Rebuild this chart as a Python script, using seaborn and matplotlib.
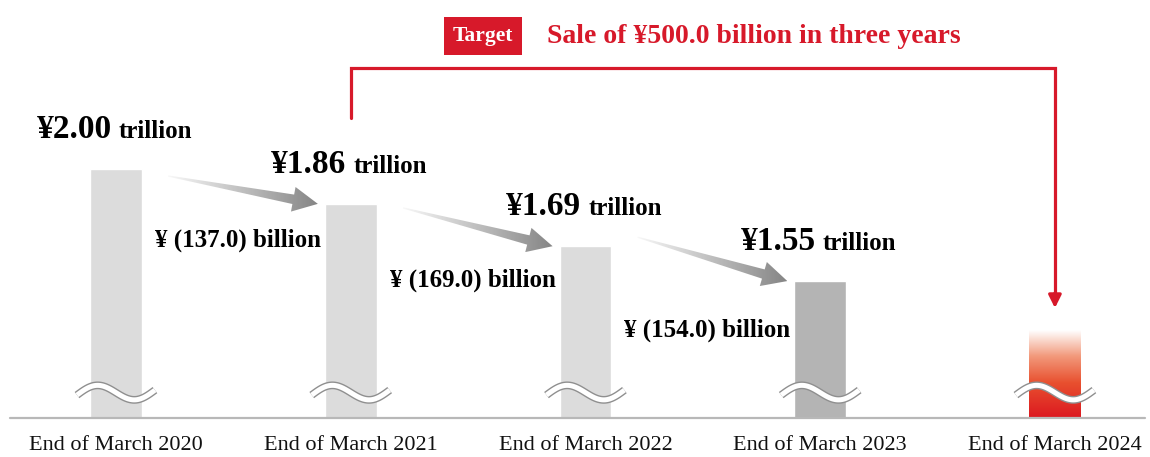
import numpy as np
import pandas as pd
import matplotlib.pyplot as plt
import seaborn as sns
from matplotlib.colors import LinearSegmentedColormap
from matplotlib.patches import Polygon
from matplotlib.transforms import IdentityTransform

# ---- data ----
categories = ["End of March 2020", "End of March 2021", "End of March 2022",
              "End of March 2023", "End of March 2024"]
balance = [2.00, 1.86, 1.69, 1.55, 1.35]          # trillion yen (2024 = target bar, faded)
balance_labels = ["¥2.00", "¥1.86", "¥1.69", "¥1.55"]
reductions = ["¥ (137.0) billion", "¥ (169.0) billion", "¥ (154.0) billion"]
target_text = "Sale of ¥500.0 billion in three years"

bar_colors = ["#dcdcdc", "#dcdcdc", "#dcdcdc", "#b4b4b4", (1, 1, 1, 0)]
red = "#d7192a"

# ---- layout ----
W, H = 1150, 457
BASE_PX = 418          # baseline row in the image
PX_PER_UNIT = 249      # pixels per trillion above the break
Y0 = 1.0
YTOP = Y0 + BASE_PX / PX_PER_UNIT
diff_label_y = [1.715, 1.554, 1.353]
arrow_start_dy = [-7, -4, 9]      # px, relative to bar top

sns.set_style("white")
plt.rcParams["font.family"] = ["Liberation Serif", "DejaVu Serif"]
plt.rcParams["text.color"] = "black"

fig = plt.figure(figsize=(W / 100, H / 100), dpi=100)
ax = fig.add_axes([0, (H - BASE_PX) / H, 1, BASE_PX / H])

df = pd.DataFrame({"period": categories, "value": balance})
sns.barplot(data=df, x="period", y="value", hue="period", palette=bar_colors,
            width=0.22, legend=False, ax=ax, saturation=1)

ax.set_xlim(-0.494, 4.405)
ax.set_ylim(Y0, YTOP)
sns.despine(ax=ax, left=True, bottom=True)
ax.set_yticks([])
ax.set_xlabel("")
ax.set_ylabel("")
ax.tick_params(axis="x", length=0, pad=13, labelsize=16, labelcolor="#111111")
ax.axhline(Y0, xmin=0.009, xmax=0.996, color="#b8b8b8", lw=1.6, clip_on=False, zorder=3)

# faded red target bar
bar = ax.patches[4]
grad = np.linspace(0, 1, 256).reshape(-1, 1)
red_cmap = LinearSegmentedColormap.from_list(
    "redfade", [(0.0, "#dc1820"), (0.4, "#e8502f"), (0.7, "#f2987a"), (1.0, "#ffffff")])
ax.imshow(grad, cmap=red_cmap, origin="lower", aspect="auto", zorder=2,
          extent=(bar.get_x(), bar.get_x() + bar.get_width(), Y0, bar.get_height()))
ax.set_xlim(-0.494, 4.405)
ax.set_ylim(Y0, YTOP)

# break marks
t = np.linspace(0, 1, 120)
for i in range(len(categories)):
    xs = i - 0.166 + 0.332 * t
    ys = 1.102 + 0.034 * np.sin(2 * np.pi * t) + 0.02 * (t - 0.5)
    ax.plot(xs, ys, color="#8f8f8f", lw=5.6, solid_capstyle="butt", zorder=4)
    ax.plot(xs, ys, color="white", lw=3.6, solid_capstyle="butt", zorder=5)

# value labels above bars
for i, lab in enumerate(balance_labels):
    ax.annotate(lab, xy=(i, balance[i]), xytext=(-3, 22.3), textcoords="offset points",
                ha="right", va="baseline", fontsize=24, fontweight="bold")
    ax.annotate("trillion", xy=(i, balance[i]), xytext=(2, 22.3), textcoords="offset points",
                ha="left", va="baseline", fontsize=18, fontweight="bold")

# reduction labels
for i, lab in enumerate(reductions):
    ax.text(i + 1 - 0.127, diff_label_y[i], lab, ha="right", va="center",
            fontsize=18, fontweight="bold")

# gradient arrows between bars
gray_cmap = LinearSegmentedColormap.from_list("grayfade", ["#f8f8f8", "#858585"])
to_px = ax.transData
to_data = ax.transData.inverted()
for i in range(3):
    sx, sy = to_px.transform((i + 0.222, balance[i]))
    sy += arrow_start_dy[i]
    tx, ty = to_px.transform((i + 1 - 0.14, balance[i + 1]))
    d = np.array([tx - sx, ty - sy])
    u = d / np.hypot(*d)
    n = np.array([-u[1], u[0]])
    s = np.array([sx, sy])
    tip = np.array([tx, ty])
    hb = tip - 25 * u
    pts = [s + 0.6 * n, hb + 4.8 * n, hb + 12.5 * n, tip,
           hb - 12.5 * n, hb - 4.8 * n, s - 0.6 * n]
    poly = Polygon(pts, closed=True, transform=IdentityTransform(),
                   facecolor="none", edgecolor="none")
    ax.add_patch(poly)
    pts = np.array(pts)
    (x0, y0), (x1, y1) = to_data.transform([pts.min(axis=0), pts.max(axis=0)])
    im = ax.imshow(np.linspace(0, 1, 256).reshape(1, -1), cmap=gray_cmap, aspect="auto",
                   extent=(x0, x1, y0, y1), zorder=3)
    im.set_clip_path(poly)
ax.set_xlim(-0.494, 4.405)
ax.set_ylim(Y0, YTOP)

# target connector
y_line = Y0 + (BASE_PX - 68) / PX_PER_UNIT
y_tip = Y0 + (BASE_PX - 308) / PX_PER_UNIT
ax.plot([1, 1, 4, 4], [Y0 + (BASE_PX - 118) / PX_PER_UNIT, y_line, y_line, y_tip + 0.05],
        color=red, lw=2.3, solid_joinstyle="miter", clip_on=False)
ax.annotate("", xy=(4, y_tip), xytext=(4, y_tip + 0.06),
            arrowprops=dict(arrowstyle="-|>", color=red, lw=2.3, mutation_scale=19,
                            shrinkA=0, shrinkB=0))

y_title = Y0 + (BASE_PX - 36) / PX_PER_UNIT
ax.text(1.563, y_title, "Target", ha="center", va="center", color="white",
        fontsize=15.5, fontweight="bold",
        bbox=dict(boxstyle="square,pad=0.42", fc=red, ec="none"))
ax.text(1.836, y_title, target_text, ha="left", va="center", color=red,
        fontsize=20, fontweight="bold")

fig.savefig("out.png", dpi=100)
